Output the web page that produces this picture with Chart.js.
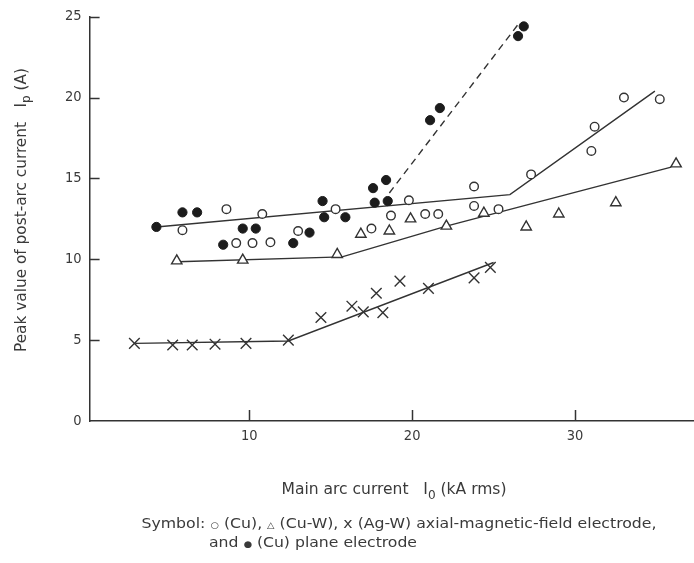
<!DOCTYPE html>
<html>
<head>
<meta charset="utf-8">
<script src="https://cdn.jsdelivr.net/npm/chart.js@4.4.0/dist/chart.umd.min.js"></script>
<style>
  html, body { margin: 0; padding: 0; background: #fff; }
  canvas { display: block; }
</style>
</head>
<body>
<canvas id="chart" width="694" height="563"></canvas>
<script>
// open circles: (Cu) axial-magnetic-field electrode
const cuAxialX = [5.9, 8.6, 9.2, 10.2, 10.8, 11.3, 13.0, 15.3, 17.5, 18.7, 19.8, 20.8, 21.6, 23.8, 23.8, 25.3, 27.3, 31.0, 31.2, 33.0, 35.2]
const cuAxialY = [11.8, 13.1, 11.0, 11.0, 12.8, 11.05, 11.75, 13.1, 11.9, 12.7, 13.65, 12.8, 12.8, 14.5, 13.3, 13.1, 15.25, 16.7, 18.2, 20.0, 19.9]

// triangles: (Cu-W)
const cuWX = [5.55, 9.6, 15.4, 16.85, 18.6, 19.9, 22.1, 24.4, 27.0, 29.0, 32.5, 36.2]
const cuWY = [9.9, 9.95, 10.3, 11.55, 11.75, 12.5, 12.05, 12.85, 12.0, 12.8, 13.5, 15.9]

// crosses: (Ag-W)
const agWX = [2.95, 5.3, 6.5, 7.9, 9.8, 12.4, 14.4, 16.3, 17.0, 17.8, 18.2, 19.25, 21.0, 23.8, 24.8]
const agWY = [4.8, 4.7, 4.7, 4.75, 4.8, 5.0, 6.4, 7.1, 6.75, 7.9, 6.7, 8.65, 8.2, 8.85, 9.5]

// filled circles: (Cu) plane electrode
const cuPlaneX = [4.3, 5.9, 6.8, 8.4, 9.6, 10.4, 12.7, 13.7, 14.5, 14.6, 15.9, 17.6, 17.7, 18.4, 18.5, 21.1, 21.7, 26.5, 26.85]
const cuPlaneY = [12.0, 12.9, 12.9, 10.9, 11.9, 11.9, 11.0, 11.65, 13.6, 12.6, 12.6, 14.4, 13.5, 14.9, 13.6, 18.6, 19.35, 23.8, 24.4]

// hand-drawn trend lines
const cuAxialFitX = [4.3, 26.0, 34.9]
const cuAxialFitY = [12.0, 14.0, 20.4]
const cuWFitX = [5.6, 15.7, 22.1, 27.0, 35.9]
const cuWFitY = [9.85, 10.15, 12.05, 13.35, 15.7]
const agWFitX = [3.0, 12.4, 25.0]
const agWFitY = [4.8, 4.95, 9.8]
const cuPlaneFitX = [18.6, 26.6]
const cuPlaneFitY = [14.1, 24.65]

// axes
const xTickValues = [10, 20, 30]
const yTickValues = [0, 5, 10, 15, 20, 25]

const ink = '#333'
const textInk = '#3a3a3a'
const family = '"Liberation Sans Narrow", "DejaVu Sans Condensed", "Liberation Sans", sans-serif'

const toPoints = (xs, ys) => xs.map((x, i) => ({ x: x, y: ys[i] }))

// size of one text run: subscripts and symbols are drawn smaller
const runSize = (r, size) => size * (r.sub ? 0.78 : (r.rel || 1))

// draws a list of text runs (with optional subscripts), squeezed to a target width
const drawRuns = (ctx, runs, size, targetWidth) => {
    let total = 0
    runs.forEach(r => {
        ctx.font = runSize(r, size) + 'px ' + family
        r.w = ctx.measureText(r.t).width
        total += r.w
    })
    const sx = targetWidth ? targetWidth / total : 1
    ctx.save()
    ctx.scale(sx, 1)
    let x = 0
    runs.forEach(r => {
        ctx.font = runSize(r, size) + 'px ' + family
        ctx.fillText(r.t, x, r.sub ? size * 0.3 : 0)
        x += r.w
    })
    ctx.restore()
}

// inward tick marks + titles and caption
const decorations = {
    id: 'decorations',
    afterDraw(chart) {
        const { ctx, chartArea, scales } = chart
        ctx.save()
        ctx.strokeStyle = ink
        ctx.lineWidth = 1.5
        yTickValues.forEach(v => {
            if (v === 0) return
            const py = Math.round(scales.y.getPixelForValue(v)) + 0.5
            ctx.beginPath()
            ctx.moveTo(chartArea.left, py)
            ctx.lineTo(chartArea.left + 10, py)
            ctx.stroke()
        })
        xTickValues.forEach(v => {
            const px = Math.round(scales.x.getPixelForValue(v)) + 0.5
            ctx.beginPath()
            ctx.moveTo(px, chartArea.bottom)
            ctx.lineTo(px, chartArea.bottom - 11)
            ctx.stroke()
        })

        ctx.fillStyle = textInk
        ctx.textBaseline = 'alphabetic'
        ctx.textAlign = 'left'

        // y title
        ctx.save()
        ctx.translate(25.5, 352)
        ctx.rotate(-Math.PI / 2)
        drawRuns(ctx, [{ t: 'Peak value of post-arc current   I' }, { t: 'p', sub: true }, { t: ' (A)' }], 15.5, 284)
        ctx.restore()

        // x title
        ctx.save()
        ctx.translate(281.5, 494)
        drawRuns(ctx, [{ t: 'Main arc current   I' }, { t: '0', sub: true }, { t: ' (kA rms)' }], 15.5, 225)
        ctx.restore()

        // caption
        ctx.save()
        ctx.translate(141.5, 527.5)
        drawRuns(ctx, [
            { t: 'Symbol: ' }, { t: '\u25CB', rel: 0.62 }, { t: ' (Cu), ' },
            { t: '\u25B3', rel: 0.62 }, { t: ' (Cu-W), x (Ag-W) axial-magnetic-field electrode,' }
        ], 14.5, 515)
        ctx.restore()
        ctx.save()
        ctx.translate(209, 547)
        drawRuns(ctx, [{ t: 'and ' }, { t: '\u25CF', rel: 0.62 }, { t: ' (Cu) plane electrode' }], 14.5, 208)
        ctx.restore()

        ctx.restore()
    }
}

const ctx = document.querySelector('#chart')
const myChart = new Chart(ctx, {
    type: 'scatter',
    data: {
        datasets: [
            {
                label: 'Cu plane',
                data: toPoints(cuPlaneX, cuPlaneY),
                pointStyle: 'circle',
                pointRadius: 4.6,
                backgroundColor: '#1c1c1c',
                borderColor: '#1c1c1c',
                borderWidth: 1
            },
            {
                label: 'Cu',
                data: toPoints(cuAxialX, cuAxialY),
                pointStyle: 'circle',
                pointRadius: 4.3,
                backgroundColor: '#fff',
                borderColor: ink,
                borderWidth: 1.4
            },
            {
                label: 'Cu-W',
                data: toPoints(cuWX, cuWY),
                pointStyle: 'triangle',
                pointRadius: 6,
                backgroundColor: '#fff',
                borderColor: ink,
                borderWidth: 1.4
            },
            {
                label: 'Ag-W',
                data: toPoints(agWX, agWY),
                pointStyle: 'crossRot',
                pointRadius: 7.5,
                backgroundColor: '#fff',
                borderColor: ink,
                borderWidth: 1.4
            },
            {
                label: 'Cu fit',
                data: toPoints(cuAxialFitX, cuAxialFitY),
                showLine: true,
                pointRadius: 0,
                borderColor: ink,
                borderWidth: 1.4
            },
            {
                label: 'Cu-W fit',
                data: toPoints(cuWFitX, cuWFitY),
                showLine: true,
                pointRadius: 0,
                borderColor: ink,
                borderWidth: 1.4
            },
            {
                label: 'Ag-W fit',
                data: toPoints(agWFitX, agWFitY),
                showLine: true,
                pointRadius: 0,
                borderColor: ink,
                borderWidth: 1.4
            },
            {
                label: 'Cu plane fit',
                data: toPoints(cuPlaneFitX, cuPlaneFitY),
                showLine: true,
                pointRadius: 0,
                borderColor: ink,
                borderWidth: 1.4,
                borderDash: [7, 5]
            }
        ]
    },
    options: {
        responsive: false,
        animation: false,
        devicePixelRatio: 1,
        layout: { autoPadding: false, padding: { top: 15, left: 0, right: 0, bottom: 0 } },
        plugins: {
            legend: { display: false },
            tooltip: { enabled: false }
        },
        scales: {
            x: {
                type: 'linear',
                min: 0.2,
                max: 37.3,
                afterBuildTicks: (scale) => { scale.ticks = xTickValues.map(v => ({ value: v })) },
                afterFit: (scale) => { scale.height = 142 },
                grid: { display: false, drawTicks: false },
                border: { display: true, color: ink, width: 1.5 },
                ticks: { padding: 7, color: textInk, font: { family: family, size: 14.5 } }
            },
            y: {
                type: 'linear',
                min: 0,
                max: 25,
                afterBuildTicks: (scale) => { scale.ticks = yTickValues.map(v => ({ value: v })) },
                afterFit: (scale) => { scale.width = 89.6 },
                grid: { display: false, drawTicks: false },
                border: { display: true, color: ink, width: 1.5 },
                ticks: { padding: 8, color: textInk, font: { family: family, size: 14.5 } }
            }
        }
    },
    plugins: [decorations]
});
</script>
</body>
</html>
